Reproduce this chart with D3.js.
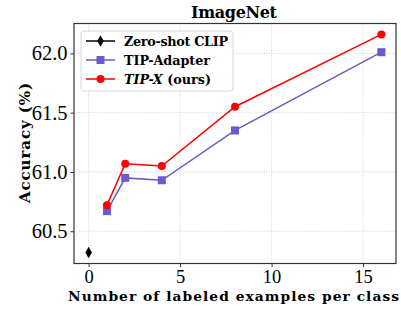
<!DOCTYPE html>
<html>
<head>
<meta charset="utf-8">
<script src="https://cdn.jsdelivr.net/npm/d3@7"></script>
<style>
  body { margin: 0; background: #fff; }
  text { font-family: "Liberation Serif", "DejaVu Serif", serif; fill: #000; }
  .bold { font-family: "DejaVu Serif", serif; font-weight: bold; }
</style>
</head>
<body>
<div id="chart"></div>
<script>
// values
var shots = [1, 2, 4, 8, 16];
var zeroShot = [{x: 0, y: 60.32}];
var tipAdapter = [60.67, 60.95, 60.93, 61.35, 62.01];
var tipX = [60.72, 61.07, 61.05, 61.55, 62.16];
var xTicks = [0, 5, 10, 15];
var yTicks = [60.5, 61.0, 61.5, 62.0];

var width = 401, height = 311;
var margin = {top: 23.5, right: 5, bottom: 47.5, left: 74};

var svg = d3.select("#chart").append("svg")
  .attr("width", width)
  .attr("height", height);

var x = d3.scaleLinear().domain([-0.8, 16.8]).range([margin.left, width - margin.right]);
var y = d3.scaleLinear().domain([60.228, 62.252]).range([height - margin.bottom, margin.top]);

// grid
var grid = svg.append("g").attr("class", "grid");
grid.selectAll("line.gx").data(xTicks).enter().append("line")
  .attr("x1", function(d) { return x(d); }).attr("x2", function(d) { return x(d); })
  .attr("y1", y.range()[0]).attr("y2", y.range()[1])
  .attr("stroke", "#c8c8c8").attr("stroke-width", 0.8).attr("stroke-dasharray", "1,1.5");
grid.selectAll("line.gy").data(yTicks).enter().append("line")
  .attr("y1", function(d) { return y(d); }).attr("y2", function(d) { return y(d); })
  .attr("x1", x.range()[0]).attr("x2", x.range()[1])
  .attr("stroke", "#c8c8c8").attr("stroke-width", 0.8).attr("stroke-dasharray", "1,1.5");

// axes
var xAxis = svg.append("g")
  .attr("transform", "translate(0," + (height - margin.bottom) + ")")
  .call(d3.axisBottom(x).tickValues(xTicks).tickSize(3.5).tickPadding(3).tickFormat(d3.format("d")));
var yAxis = svg.append("g")
  .attr("transform", "translate(" + margin.left + ",0)")
  .call(d3.axisLeft(y).tickValues(yTicks).tickSize(3.5).tickPadding(3).tickFormat(d3.format(".1f")));
[xAxis, yAxis].forEach(function(a) {
  a.attr("font-family", null);
  a.select(".domain").remove();
  a.selectAll("line").attr("stroke", "#333");
  a.selectAll("text").style("font-family", "'Liberation Serif', serif").attr("fill", "#111");
});
xAxis.selectAll("text").attr("font-size", 18.5);
yAxis.selectAll("text").attr("font-size", 20.5);

// frame
svg.append("rect")
  .attr("x", x.range()[0]).attr("y", y.range()[1])
  .attr("width", x.range()[1] - x.range()[0])
  .attr("height", y.range()[0] - y.range()[1])
  .attr("fill", "none").attr("stroke", "#333").attr("stroke-width", 1.2);

var line = d3.line()
  .x(function(d, i) { return x(shots[i]); })
  .y(function(d) { return y(d); });

// zero-shot
svg.selectAll("path.zs").data(zeroShot).enter().append("path")
  .attr("d", d3.symbol().type(d3.symbolDiamond).size(38))
  .attr("transform", function(d) { return "translate(" + x(d.x) + "," + y(d.y) + ")"; })
  .attr("fill", "#000");

// TIP-Adapter
svg.append("path").datum(tipAdapter)
  .attr("d", line).attr("fill", "none").attr("stroke", "#6a5acd").attr("stroke-width", 1.5);
svg.selectAll("rect.ta").data(tipAdapter).enter().append("rect")
  .attr("x", function(d, i) { return x(shots[i]) - 4; })
  .attr("y", function(d) { return y(d) - 4; })
  .attr("width", 8).attr("height", 8)
  .attr("fill", "#6a5acd");

// TIP-X
svg.append("path").datum(tipX)
  .attr("d", line).attr("fill", "none").attr("stroke", "#ff0000").attr("stroke-width", 1.5);
svg.selectAll("circle.tx").data(tipX).enter().append("circle")
  .attr("cx", function(d, i) { return x(shots[i]); })
  .attr("cy", function(d) { return y(d); })
  .attr("r", 4)
  .attr("fill", "#ff0000");

// legend
var lg = svg.append("g").attr("transform", "translate(81,31)");
lg.append("rect").attr("width", 152).attr("height", 60).attr("rx", 3)
  .attr("fill", "#fff").attr("fill-opacity", 0.85)
  .attr("stroke", "#d6d6d6").attr("stroke-width", 1);
var items = [
  {color: "#000", sym: "diamond"},
  {color: "#6a5acd", sym: "square"},
  {color: "#ff0000", sym: "circle"}
];
items.forEach(function(it, i) {
  var cy = 10 + i * 19;
  lg.append("line").attr("x1", 5).attr("x2", 34).attr("y1", cy).attr("y2", cy)
    .attr("stroke", it.color).attr("stroke-width", 1.5);
  if (it.sym === "diamond") {
    lg.append("path").attr("d", d3.symbol().type(d3.symbolDiamond).size(38))
      .attr("transform", "translate(19.5," + cy + ")").attr("fill", it.color);
  } else if (it.sym === "square") {
    lg.append("rect").attr("x", 15.5).attr("y", cy - 4).attr("width", 8).attr("height", 8).attr("fill", it.color);
  } else {
    lg.append("circle").attr("cx", 19.5).attr("cy", cy).attr("r", 4).attr("fill", it.color);
  }
});
var lt = lg.selectAll("text").data([0, 1, 2]).enter().append("text")
  .attr("class", "bold")
  .attr("x", 43).attr("y", function(d) { return 10 + d * 19 + 5; })
  .attr("font-size", 12.8);
d3.select(lt.nodes()[0]).text("Zero-shot CLIP").attr("textLength", 104).attr("lengthAdjust", "spacing");
d3.select(lt.nodes()[1]).text("TIP-Adapter").attr("textLength", 86).attr("lengthAdjust", "spacing");
var t3 = d3.select(lt.nodes()[2]);
t3.append("tspan").attr("font-style", "italic").text("TIP-X");
t3.append("tspan").text(" (ours)");

// title and labels
svg.append("text").attr("class", "bold").attr("x", 191).attr("y", 18)
  .attr("font-size", 16).attr("textLength", 86).attr("lengthAdjust", "spacing")
  .text("ImageNet");
svg.append("text").attr("class", "bold").attr("x", 68).attr("y", 301)
  .attr("font-size", 13.8).attr("textLength", 331).attr("lengthAdjust", "spacing")
  .text("Number of labeled examples per class");
svg.append("text").attr("class", "bold").attr("transform", "translate(30,203) rotate(-90)")
  .attr("font-size", 15).attr("textLength", 120).attr("lengthAdjust", "spacing")
  .text("Accuracy (%)");
</script>
</body>
</html>
